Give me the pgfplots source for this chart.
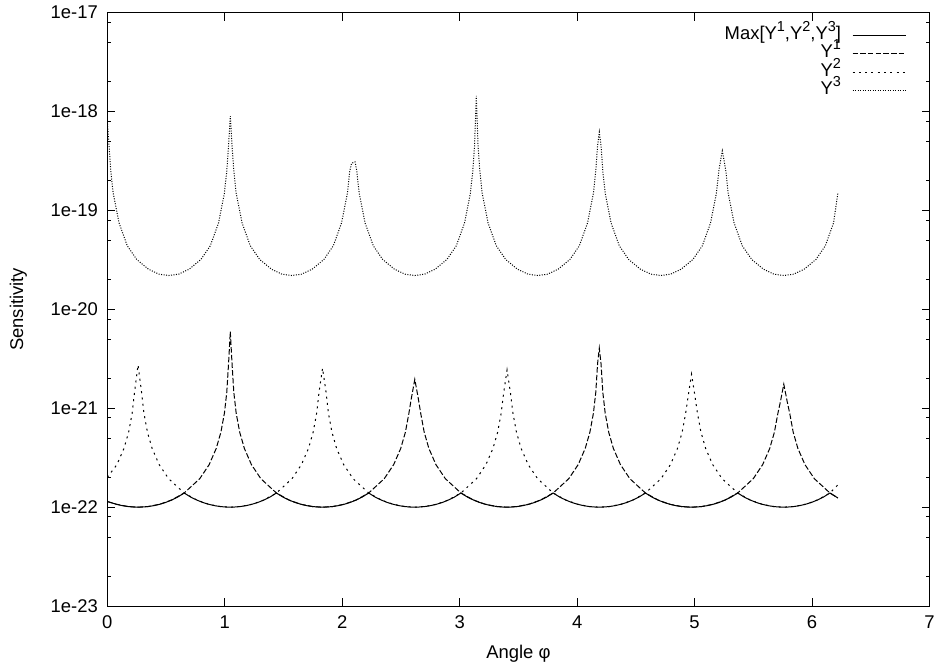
\documentclass[border=0pt]{standalone}
\usepackage{fontspec}
\setmainfont{Liberation Sans}
\usepackage{pgfplots}
\pgfplotsset{compat=1.18}
\newcommand\sups[1]{\raisebox{0.42em}{\fontsize{14.5}{14}\selectfont #1}}
\begin{document}
\begin{tikzpicture}
\useasboundingbox (-107.3bp,-60bp) rectangle (827.7bp,606bp);
\begin{axis}[
  at={(0,0)}, anchor=south west,
  scale only axis, width=822.2bp, height=593.3bp,
  ymode=log, xmin=0, xmax=7, ymin=1e-23, ymax=1e-17,
  axis line style={line width=0.9bp},
  every tick/.style={black, line width=0.8bp},
  major tick length=8bp, minor tick length=4bp,
  tick align=inside,
  xtick={0,1,2,3,4,5,6,7}, xticklabels={0,1,2,3,4,5,6,7},
  ytick={1e-23,1e-22,1e-21,1e-20,1e-19,1e-18,1e-17},
  yticklabels={1e-23,1e-22,1e-21,1e-20,1e-19,1e-18,1e-17},
  minor ytick={2e-23,5e-23,8e-23,2e-22,5e-22,8e-22,2e-21,5e-21,8e-21,2e-20,5e-20,8e-20,2e-19,5e-19,8e-19,2e-18,5e-18,8e-18},
  tick label style={font=\fontsize{18.5}{21}\selectfont},
  yticklabel style={xshift=-6bp},
  xticklabel style={yshift=-6.5bp},
  label style={font=\fontsize{18.5}{21}\selectfont},
  xlabel={Angle φ}, ylabel={Sensitivity},
  xlabel style={at={(axis description cs:0.5,-0.0809)}, anchor=center},
  ylabel style={at={(axis description cs:-0.1082,0.5)}, anchor=center},
  legend plot pos=right,
  legend cell align=right,
  legend image code/.code={\draw[#1] (0bp,0bp) -- (53bp,0bp);},
  legend style={draw=none, fill=none, at={(1,1)}, anchor=north east,
    xshift=-23.5bp, yshift=-13.6bp, inner sep=0pt, outer sep=0pt,
    column sep=11bp, row sep=0pt,
    font=\fontsize{18.5}{21}\selectfont,
    nodes={inner sep=0pt, text height=13bp, text depth=5.4bp}},
]
\addplot[black, line width=1bp] coordinates {
(0,1.14e-22) (0.0264,1.116e-22) (0.0764,1.07e-22) (0.1264,1.036e-22) (0.1764,1.014e-22) (0.2264,1.0025e-22) (0.2618,1.0e-22) (0.2972,1.0025e-22) (0.3472,1.014e-22) (0.3972,1.036e-22) (0.4472,1.07e-22) (0.4972,1.116e-22) (0.5472,1.18e-22) (0.5972,1.26e-22) (0.6545,1.39e-22)
(0.7118,1.26e-22) (0.7618,1.18e-22) (0.8118,1.116e-22) (0.8618,1.07e-22) (0.9118,1.036e-22) (0.9618,1.014e-22) (1.0118,1.0025e-22) (1.0472,1.0e-22) (1.0826,1.0025e-22) (1.1326,1.014e-22) (1.1826,1.036e-22) (1.2326,1.07e-22) (1.2826,1.116e-22) (1.3326,1.18e-22) (1.3826,1.26e-22) (1.4399,1.39e-22)
(1.4972,1.26e-22) (1.5472,1.18e-22) (1.5972,1.116e-22) (1.6472,1.07e-22) (1.6972,1.036e-22) (1.7472,1.014e-22) (1.7972,1.0025e-22) (1.8326,1.0e-22) (1.8680,1.0025e-22) (1.9180,1.014e-22) (1.9680,1.036e-22) (2.0180,1.07e-22) (2.0680,1.116e-22) (2.1180,1.18e-22) (2.1680,1.26e-22) (2.2253,1.39e-22)
(2.2826,1.26e-22) (2.3326,1.18e-22) (2.3826,1.116e-22) (2.4326,1.07e-22) (2.4826,1.036e-22) (2.5326,1.014e-22) (2.5826,1.0025e-22) (2.6180,1.0e-22) (2.6534,1.0025e-22) (2.7034,1.014e-22) (2.7534,1.036e-22) (2.8034,1.07e-22) (2.8534,1.116e-22) (2.9034,1.18e-22) (2.9534,1.26e-22) (3.0107,1.39e-22)
(3.0680,1.26e-22) (3.1180,1.18e-22) (3.1680,1.116e-22) (3.2180,1.07e-22) (3.2680,1.036e-22) (3.3180,1.014e-22) (3.3680,1.0025e-22) (3.4034,1.0e-22) (3.4388,1.0025e-22) (3.4888,1.014e-22) (3.5388,1.036e-22) (3.5888,1.07e-22) (3.6388,1.116e-22) (3.6888,1.18e-22) (3.7388,1.26e-22) (3.7961,1.39e-22)
(3.8534,1.26e-22) (3.9034,1.18e-22) (3.9534,1.116e-22) (4.0034,1.07e-22) (4.0534,1.036e-22) (4.1034,1.014e-22) (4.1534,1.0025e-22) (4.1888,1.0e-22) (4.2242,1.0025e-22) (4.2742,1.014e-22) (4.3242,1.036e-22) (4.3742,1.07e-22) (4.4242,1.116e-22) (4.4742,1.18e-22) (4.5242,1.26e-22) (4.5815,1.39e-22)
(4.6388,1.26e-22) (4.6888,1.18e-22) (4.7388,1.116e-22) (4.7888,1.07e-22) (4.8388,1.036e-22) (4.8888,1.014e-22) (4.9388,1.0025e-22) (4.9742,1.0e-22) (5.0096,1.0025e-22) (5.0596,1.014e-22) (5.1096,1.036e-22) (5.1596,1.07e-22) (5.2096,1.116e-22) (5.2596,1.18e-22) (5.3096,1.26e-22) (5.3669,1.39e-22)
(5.4242,1.26e-22) (5.4742,1.18e-22) (5.5242,1.116e-22) (5.5742,1.07e-22) (5.6242,1.036e-22) (5.6742,1.014e-22) (5.7242,1.0025e-22) (5.7596,1.0e-22) (5.7950,1.0025e-22) (5.8450,1.014e-22) (5.8950,1.036e-22) (5.9450,1.07e-22) (5.9950,1.116e-22) (6.0450,1.18e-22) (6.0950,1.26e-22) (6.1523,1.39e-22)
(6.2096,1.26e-22) (6.22,1.24e-22)
};
\addlegendentry{Max[Y\sups{1},Y\sups{2},Y\sups{3}]}
\addplot[black, line width=1bp, dash pattern=on 5.5bp off 2.2bp] coordinates {
(0,1.14e-22) (0.0764,1.07e-22) (0.1764,1.014e-22) (0.2618,1.0e-22) (0.3472,1.014e-22) (0.4472,1.07e-22) (0.5472,1.18e-22) (0.6545,1.39e-22) (0.7872,1.94e-22) (0.8672,2.69e-22) (0.9272,3.92e-22) (0.9672,5.73e-22) (0.9972,8.93e-22) (1.0172,1.45e-21) (1.0322,2.8e-21) (1.0472,5.95e-21) (1.0622,2.8e-21) (1.0772,1.45e-21) (1.0972,8.93e-22) (1.1272,5.73e-22) (1.1672,3.92e-22) (1.2272,2.69e-22) (1.3072,1.94e-22) (1.4399,1.39e-22) (1.5472,1.18e-22) (1.6472,1.07e-22) (1.7472,1.014e-22) (1.8326,1.0e-22)
(1.9180,1.014e-22) (2.0180,1.07e-22) (2.1180,1.18e-22) (2.2253,1.39e-22) (2.3580,1.94e-22) (2.4380,2.69e-22) (2.4980,3.92e-22) (2.5380,5.73e-22) (2.5680,8.93e-22) (2.5880,1.25e-21) (2.6180,1.96e-21) (2.6480,1.25e-21) (2.6680,8.93e-22) (2.6980,5.73e-22) (2.7380,3.92e-22) (2.7980,2.69e-22) (2.8780,1.94e-22) (3.0107,1.39e-22) (3.1180,1.18e-22) (3.2180,1.07e-22) (3.3180,1.014e-22) (3.4034,1.0e-22)
(3.4888,1.014e-22) (3.5888,1.07e-22) (3.6888,1.18e-22) (3.7961,1.39e-22) (3.9288,1.94e-22) (4.0088,2.69e-22) (4.0688,3.92e-22) (4.1088,5.73e-22) (4.1388,8.93e-22) (4.1588,1.45e-21) (4.1738,2.8e-21) (4.1888,4.05e-21) (4.2038,2.8e-21) (4.2188,1.45e-21) (4.2388,8.93e-22) (4.2688,5.73e-22) (4.3088,3.92e-22) (4.3688,2.69e-22) (4.4488,1.94e-22) (4.5815,1.39e-22) (4.6888,1.18e-22) (4.7888,1.07e-22) (4.8888,1.014e-22) (4.9742,1.0e-22)
(5.0596,1.014e-22) (5.1596,1.07e-22) (5.2596,1.18e-22) (5.3669,1.39e-22) (5.4996,1.94e-22) (5.5796,2.69e-22) (5.6396,3.92e-22) (5.6796,5.73e-22) (5.7096,8.93e-22) (5.7296,1.15e-21) (5.7596,1.75e-21) (5.7896,1.15e-21) (5.8096,8.93e-22) (5.8396,5.73e-22) (5.8796,3.92e-22) (5.9396,2.69e-22) (6.0196,1.94e-22) (6.1523,1.39e-22) (6.22,1.24e-22)
};
\addlegendentry{Y\sups{1}}
\addplot[black, line width=1bp, dash pattern=on 2bp off 4.3bp] coordinates {
(0,2.0e-22) (0.0818,2.69e-22) (0.1418,3.92e-22) (0.1818,5.73e-22) (0.2118,8.93e-22) (0.2318,1.45e-21) (0.2618,2.74e-21) (0.2918,1.45e-21) (0.3118,8.93e-22) (0.3418,5.73e-22) (0.3818,3.92e-22) (0.4418,2.69e-22) (0.5218,1.94e-22) (0.6545,1.39e-22) (0.7618,1.18e-22) (0.8618,1.07e-22) (0.9618,1.014e-22) (1.0472,1.0e-22)
(1.1326,1.014e-22) (1.2326,1.07e-22) (1.3326,1.18e-22) (1.4399,1.39e-22) (1.5726,1.94e-22) (1.6526,2.69e-22) (1.7126,3.92e-22) (1.7526,5.73e-22) (1.7826,8.93e-22) (1.8026,1.45e-21) (1.8326,2.54e-21) (1.8626,1.45e-21) (1.8826,8.93e-22) (1.9126,5.73e-22) (1.9526,3.92e-22) (2.0126,2.69e-22) (2.0926,1.94e-22) (2.2253,1.39e-22) (2.3326,1.18e-22) (2.4326,1.07e-22) (2.5326,1.014e-22) (2.6180,1.0e-22)
(2.7034,1.014e-22) (2.8034,1.07e-22) (2.9034,1.18e-22) (3.0107,1.39e-22) (3.1434,1.94e-22) (3.2234,2.69e-22) (3.2834,3.92e-22) (3.3234,5.73e-22) (3.3534,8.93e-22) (3.3734,1.4e-21) (3.4034,2.44e-21) (3.4334,1.4e-21) (3.4534,8.93e-22) (3.4834,5.73e-22) (3.5234,3.92e-22) (3.5834,2.69e-22) (3.6634,1.94e-22) (3.7961,1.39e-22) (3.9034,1.18e-22) (4.0034,1.07e-22) (4.1034,1.014e-22) (4.1888,1.0e-22)
(4.2742,1.014e-22) (4.3742,1.07e-22) (4.4742,1.18e-22) (4.5815,1.39e-22) (4.7142,1.94e-22) (4.7942,2.69e-22) (4.8542,3.92e-22) (4.8942,5.73e-22) (4.9242,8.93e-22) (4.9442,1.3e-21) (4.9742,2.21e-21) (5.0042,1.3e-21) (5.0242,8.93e-22) (5.0542,5.73e-22) (5.0942,3.92e-22) (5.1542,2.69e-22) (5.2342,1.94e-22) (5.3669,1.39e-22) (5.4742,1.18e-22) (5.5742,1.07e-22) (5.6742,1.014e-22) (5.7596,1.0e-22)
(5.8450,1.014e-22) (5.9450,1.07e-22) (6.0450,1.18e-22) (6.1523,1.39e-22) (6.22,1.68e-22)
};
\addlegendentry{Y\sups{2}}
\addplot[black, line width=1bp, dash pattern=on 1bp off 1.5bp] coordinates {
(0,8e-19) (0.015,4.5e-19) (0.03,2.5e-19) (0.05,1.5e-19) (0.10,7.5e-20) (0.17,4.4e-20) (0.25,3.2e-20) (0.35,2.55e-20) (0.44,2.27e-20) (0.5236,2.2e-20)
(0.6072,2.27e-20) (0.6972,2.55e-20) (0.7972,3.2e-20) (0.8772,4.4e-20) (0.9472,7.5e-20) (0.9972,1.5e-19) (1.0172,2.5e-19) (1.0322,4.5e-19) (1.0472,9e-19) (1.0622,4.5e-19) (1.0772,2.5e-19) (1.0972,1.5e-19) (1.1472,7.5e-20) (1.2172,4.4e-20) (1.2972,3.2e-20) (1.3972,2.55e-20) (1.4872,2.27e-20) (1.5708,2.2e-20)
(1.6544,2.27e-20) (1.7444,2.55e-20) (1.8444,3.2e-20) (1.9244,4.4e-20) (1.9944,7.5e-20) (2.0444,1.5e-19) (2.0644,2.5e-19) (2.0794,3.0e-19) (2.1094,3.1e-19) (2.1244,2.5e-19) (2.1444,1.5e-19) (2.1944,7.5e-20) (2.2644,4.4e-20) (2.3444,3.2e-20) (2.4444,2.55e-20) (2.5344,2.27e-20) (2.6180,2.2e-20)
(2.7016,2.27e-20) (2.7916,2.55e-20) (2.8916,3.2e-20) (2.9716,4.4e-20) (3.0416,7.5e-20) (3.0916,1.5e-19) (3.1116,2.5e-19) (3.1266,4.5e-19) (3.1416,1.44e-18) (3.1566,4.5e-19) (3.1716,2.5e-19) (3.1916,1.5e-19) (3.2416,7.5e-20) (3.3116,4.4e-20) (3.3916,3.2e-20) (3.4916,2.55e-20) (3.5816,2.27e-20) (3.6652,2.2e-20)
(3.7488,2.27e-20) (3.8388,2.55e-20) (3.9388,3.2e-20) (4.0188,4.4e-20) (4.0888,7.5e-20) (4.1388,1.5e-19) (4.1588,2.5e-19) (4.1738,4.5e-19) (4.1888,6.2e-19) (4.2038,4.5e-19) (4.2188,2.5e-19) (4.2388,1.5e-19) (4.2888,7.5e-20) (4.3588,4.4e-20) (4.4388,3.2e-20) (4.5388,2.55e-20) (4.6288,2.27e-20) (4.7124,2.2e-20)
(4.7960,2.27e-20) (4.8860,2.55e-20) (4.9860,3.2e-20) (5.0660,4.4e-20) (5.1360,7.5e-20) (5.1860,1.5e-19) (5.2060,2.5e-19) (5.2210,3.2e-19) (5.2360,4.0e-19) (5.2510,3.2e-19) (5.2660,2.5e-19) (5.2860,1.5e-19) (5.3360,7.5e-20) (5.4060,4.4e-20) (5.4860,3.2e-20) (5.5860,2.55e-20) (5.6760,2.27e-20) (5.7596,2.2e-20)
(5.8432,2.27e-20) (5.9332,2.55e-20) (6.0332,3.2e-20) (6.1132,4.4e-20) (6.1832,7.5e-20) (6.22,1.5e-19)
};
\addlegendentry{Y\sups{3}}
\end{axis}
\end{tikzpicture}
\end{document}
